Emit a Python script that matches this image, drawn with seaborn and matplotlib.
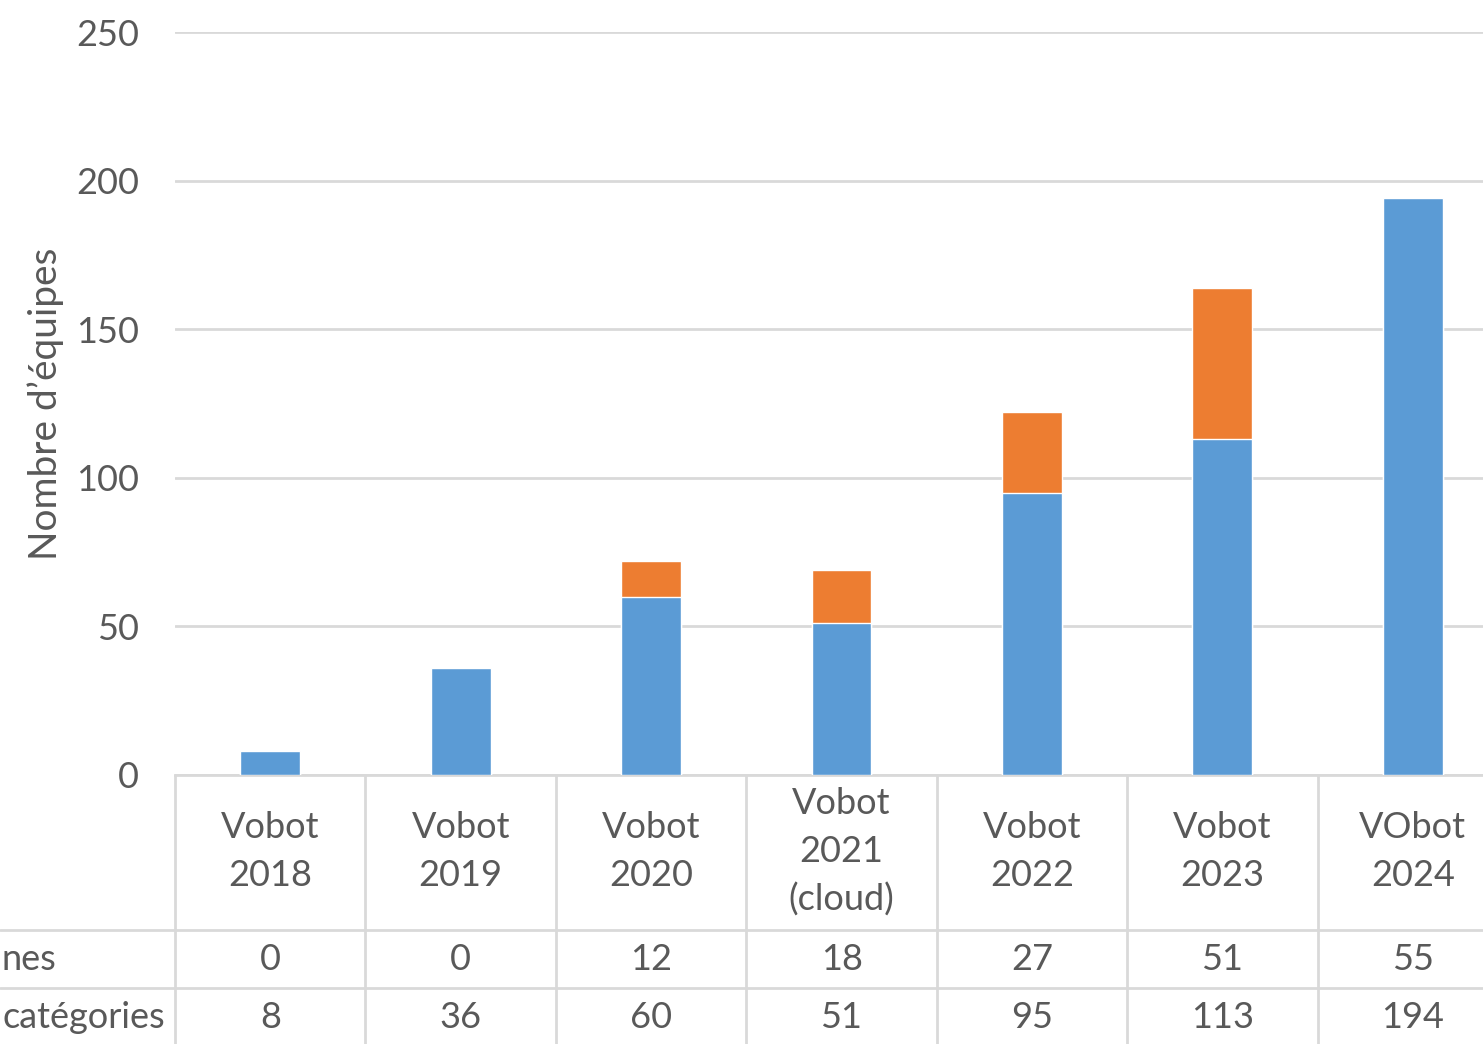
import matplotlib
matplotlib.use("Agg")
import matplotlib.pyplot as plt
import seaborn as sns
import pandas as pd

editions = ["Vobot\n2018", "Vobot\n2019", "Vobot\n2020", "Vobot\n2021\n(cloud)",
            "Vobot\n2022", "Vobot\n2023", "VObot\n2024"]
orange_vals = [0, 0, 12, 18, 27, 51, 55]
blue_vals = [8, 36, 60, 51, 95, 113, 194]
orange_shown = [True, True, True, True, True, True, False]  # 2024 orange segment not drawn
row_labels = ["nes", "catégories"]  # only the visible ends of the cropped row labels
yticks = [0, 50, 100, 150, 200, 250]

BLUE = "#5B9BD5"
ORANGE = "#ED7D31"
GRID = "#D9D9D9"
TXT = "#595959"
FS = 26

sns.set_theme(style="white")
plt.rcParams["font.family"] = ["Lato", "DejaVu Sans"]

df = pd.DataFrame({
    "edition": editions,
    "blue": blue_vals,
    "orange": [o if s else 0 for o, s in zip(orange_vals, orange_shown)],
})
df["total"] = df["blue"] + df["orange"]

W, H = 1483, 1044
fig = plt.figure(figsize=(W / 100, H / 100), dpi=100)
ax_left, ax_right, ax_top, ax_bot = 175, 1508, 32, 775
ax = fig.add_axes([ax_left / W, 1 - ax_bot / H, (ax_right - ax_left) / W, (ax_bot - ax_top) / H])

sns.barplot(data=df, x="edition", y="total", color=ORANGE, width=0.315,
            saturation=1, ax=ax, zorder=3)
sns.barplot(data=df, x="edition", y="blue", color=BLUE, width=0.315,
            saturation=1, ax=ax, zorder=3)

ax.set_xlim(-0.5, len(editions) - 0.5)
ax.set_ylim(0, 250)
ax.set_yticks(yticks)
ax.yaxis.grid(True, color=GRID, lw=2, zorder=0)
ax.tick_params(axis="y", length=0, pad=26, labelsize=FS, labelcolor=TXT)
ax.set_xticks([])
ax.set_xlabel("")
ax.set_ylabel("Nombre d’équipes", fontsize=28, color=TXT)
ax.yaxis.set_label_coords(-(175 - 64) / (ax_right - ax_left), 0.5)
for s in ["top", "right", "left"]:
    ax.spines[s].set_visible(False)
ax.spines["bottom"].set_color(GRID)
ax.spines["bottom"].set_linewidth(2)

# data table under the axis
def yfrac(py):
    return (ax_bot - py) / (ax_bot - ax_top)

tr = ax.get_xaxis_transform()
n = len(editions)
for i in range(n + 1):
    ax.plot([i - 0.5, i - 0.5], [0, yfrac(1050)], transform=tr, color=GRID,
            lw=2, clip_on=False)
for py in (930, 988):
    fig.add_artist(plt.Line2D([0, 1], [1 - py / H] * 2, color=GRID, lw=2))

for i, lab in enumerate(editions):
    lines = lab.split("\n")
    y0 = 852 - (len(lines) - 1) * 48 / 2
    for k, line in enumerate(lines):
        ax.text(i, yfrac(y0 + k * 48), line, transform=tr, ha="center",
                va="center", fontsize=FS, color=TXT, clip_on=False)
    ax.text(i, yfrac(959), str(orange_vals[i]), transform=tr, ha="center",
            va="center", fontsize=FS, color=TXT, clip_on=False)
    ax.text(i, yfrac(1017), str(blue_vals[i]), transform=tr, ha="center",
            va="center", fontsize=FS, color=TXT, clip_on=False)

fig.text(1 / W, 1 - 959 / H, row_labels[0], ha="left", va="center",
         fontsize=FS, color=TXT)
fig.text(165 / W, 1 - 1017 / H, row_labels[1], ha="right", va="center",
         fontsize=FS, color=TXT)

fig.savefig("out.png", dpi=100)
